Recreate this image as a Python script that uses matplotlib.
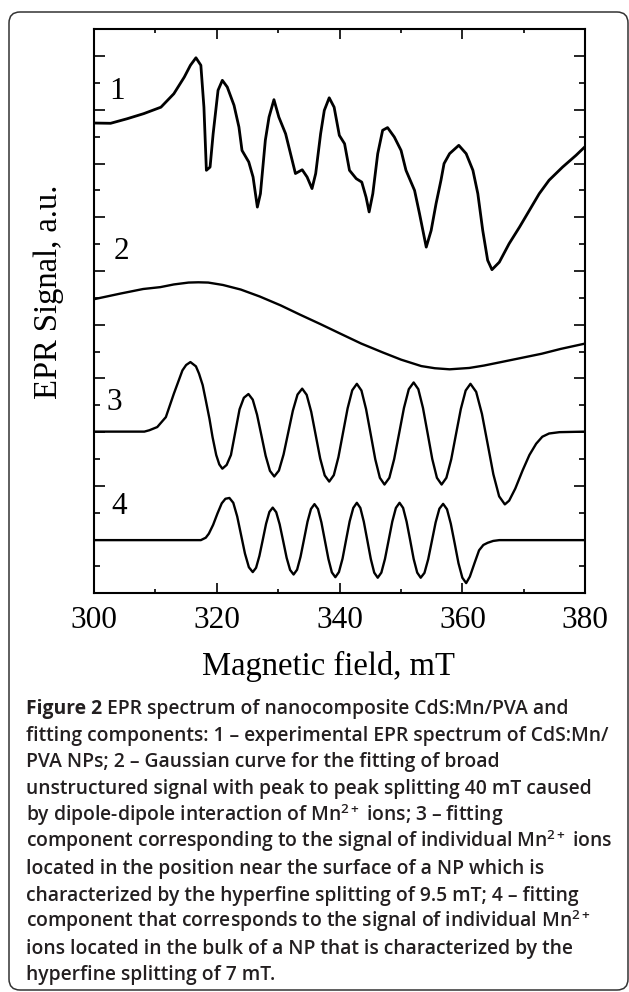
import matplotlib
matplotlib.use('Agg')
import matplotlib.pyplot as plt
from matplotlib.patches import FancyBboxPatch
from matplotlib.transforms import IdentityTransform
from matplotlib.ticker import MultipleLocator, FixedLocator

# ---------------- data ----------------
# curve 1 : experimental spectrum
field_1 = [300, 302.7, 305.4, 308.1, 310.9, 313.0, 314.7, 315.7, 316.6, 317.4,
           317.9, 318.3, 318.9, 319.4, 320.2, 320.9, 321.7, 322.8, 323.6, 324.1,
           325.2, 325.9, 326.6, 327.1, 327.9, 328.5, 329.3, 330.1, 331.2, 332.0,
           332.8, 333.9, 334.7, 335.5, 336.1, 336.9, 337.5, 338.3, 339.1, 339.95,
           340.8, 341.6, 342.7, 343.6, 344.3, 344.8, 345.4, 346.2, 347.0, 347.8,
           348.9, 350.0, 350.8, 352.2, 353.0, 354.1, 354.9, 355.7, 356.5, 357.0,
           357.9, 359.4, 360.6, 361.7, 362.5, 363.3, 364.1, 364.8, 366.0, 367.6,
           369.3, 370.9, 372.5, 374.1, 376.3, 378.5, 380]
signal_1 = [17.51, 17.5, 17.67, 17.86, 18.1, 18.6, 19.22, 19.66, 19.94, 19.66,
            18.1, 15.75, 15.87, 17.11, 18.73, 19.1, 18.85, 18.17, 17.36, 16.49,
            16.06, 15.5, 14.38, 14.88, 16.87, 17.73, 18.38, 17.73, 17.11, 16.37,
            15.63, 15.77, 15.5, 15.07, 15.63, 17.11, 17.98, 18.45, 18.1, 17.05,
            16.74, 15.75, 15.44, 15.31, 14.75, 14.2, 14.88, 16.37, 17.24, 17.34,
            16.99, 16.49, 15.75, 15.0, 14.14, 12.89, 13.51, 14.51, 15.38, 16.0,
            16.37, 16.68, 16.37, 15.75, 14.88, 13.51, 12.4, 12.05, 12.33, 13.02,
            13.64, 14.26, 14.88, 15.38, 15.87, 16.31, 16.64]

# curve 2 : broad Gaussian component
field_2 = [300, 304.3, 308, 310.8, 313, 315.4, 317, 318.6, 321, 323.9, 327,
           330.4, 333.5, 336.9, 340, 343.5, 347, 350, 353.3, 355.5, 357.9,
           361.1, 363.5, 366.3, 369.5, 372.9, 376, 380]
signal_2 = [10.95, 11.16, 11.33, 11.4, 11.5, 11.57, 11.58, 11.57, 11.48, 11.31,
            11.05, 10.72, 10.38, 10.02, 9.68, 9.3, 8.97, 8.7, 8.46, 8.38, 8.34,
            8.39, 8.48, 8.61, 8.76, 8.92, 9.1, 9.3]

# curve 3 : surface Mn2+ component (9.5 mT splitting)
field_3 = [300, 308.2, 309.0, 310.3, 311.7, 313.0, 314.4, 315.0, 315.7,
           316.6, 317.1, 317.7, 318.2, 318.8, 319.3, 319.9, 320.4, 320.9,
           321.6, 322.3, 323.0, 323.7, 324.4, 325.15,
           325.85, 326.55, 327.25, 327.95, 328.65, 329.35,
           330.11, 330.87, 331.63, 332.38, 333.14, 333.9,
           334.63, 335.37, 336.1, 336.83, 337.57, 338.3,
           339.05, 339.8, 340.55, 341.3, 342.05, 342.8,
           343.55, 344.3, 345.05, 345.8, 346.55, 347.3,
           348.09, 348.88, 349.68, 350.47, 351.26, 352.05,
           352.81, 353.57, 354.33, 355.08, 355.84, 356.6,
           357.38, 358.17, 358.95, 359.73, 360.52, 361.3,
           362.23, 363.17, 364.1, 365.03, 365.97, 366.9,
           367.6, 368.6, 369.8, 370.9, 372.0, 373.0, 374.1, 375.8, 380]
signal_3 = [6.02, 6.02, 6.07, 6.19, 6.56, 7.43, 8.3, 8.5, 8.61,
            8.45, 8.18, 7.75, 7.19, 6.5, 5.82, 5.15, 4.8, 4.64,
            4.78, 5.15, 6.0, 6.85, 7.28, 7.42,
            7.21, 6.65, 5.89, 5.12, 4.56, 4.35,
            4.57, 5.17, 5.99, 6.8, 7.4, 7.62,
            7.39, 6.76, 5.89, 5.02, 4.39, 4.16,
            4.4, 5.07, 5.98, 6.89, 7.56, 7.8,
            7.55, 6.86, 5.93, 4.99, 4.3, 4.05,
            4.3, 5.0, 5.95, 6.9, 7.6, 7.85,
            7.6, 6.9, 5.95, 5.0, 4.3, 4.05,
            4.3, 4.99, 5.93, 6.86, 7.55, 7.8,
            7.5, 6.68, 5.56, 4.43, 3.61, 3.31,
            3.45, 3.9, 4.58, 5.15, 5.57, 5.83, 5.95, 6.0, 6.02]

# curve 4 : bulk Mn2+ component (7 mT splitting)
field_4 = [300, 317.4, 318.2, 318.7, 319.4, 320.1, 320.8, 321.4, 322.05,
           322.68, 323.32, 323.95, 324.58, 325.22, 325.85,
           326.39, 326.93, 327.48, 328.02, 328.56, 329.1,
           329.67, 330.23, 330.8, 331.37, 331.93, 332.5,
           333.07, 333.63, 334.2, 334.77, 335.33, 335.9,
           336.47, 337.03, 337.6, 338.17, 338.73, 339.3,
           339.88, 340.47, 341.05, 341.63, 342.22, 342.8,
           343.37, 343.93, 344.5, 345.07, 345.63, 346.2,
           346.79, 347.38, 347.98, 348.57, 349.16, 349.75,
           350.33, 350.9, 351.48, 352.05, 352.63, 353.2,
           353.81, 354.42, 355.03, 355.63, 356.24, 356.85,
           357.48, 358.1, 358.73, 359.35, 359.98, 360.6,
           361.2, 362.0, 362.7, 363.4, 364.1, 365.0, 366.0, 380]
signal_4 = [1.98, 1.98, 2.07, 2.22, 2.55, 2.97, 3.35, 3.52, 3.55,
            3.37, 2.86, 2.17, 1.48, 0.97, 0.79,
            0.95, 1.39, 1.99, 2.59, 3.03, 3.19,
            3.02, 2.57, 1.95, 1.32, 0.87, 0.7,
            0.88, 1.36, 2.01, 2.67, 3.14, 3.32,
            3.14, 2.64, 1.96, 1.28, 0.78, 0.6,
            0.79, 1.29, 1.99, 2.68, 3.18, 3.37,
            3.18, 2.67, 1.98, 1.28, 0.77, 0.58,
            0.77, 1.28, 1.98, 2.67, 3.18, 3.37,
            3.18, 2.67, 1.98, 1.28, 0.77, 0.58,
            0.76, 1.27, 1.96, 2.64, 3.15, 3.33,
            3.13, 2.59, 1.86, 1.12, 0.58, 0.38,
            0.62, 1.15, 1.6, 1.8, 1.88, 1.95, 1.98, 1.98]

curve_labels = ['1', '2', '3', '4']
label_field = [303.7, 304.4, 303.3, 304.1]
label_signal = [18.69, 12.71, 7.1, 3.24]

x_major = [300, 320, 340, 360, 380]
x_minor = [310, 330, 350, 370]
x_label = 'Magnetic field, mT'
y_label = 'EPR Signal, a.u.'

caption_head = 'Figure 2'
caption_lines = [
    ' EPR spectrum of nanocomposite CdS:Mn/PVA and',
    'fitting components: 1 \u2013 experimental EPR spectrum of CdS:Mn/',
    'PVA NPs; 2 \u2013 Gaussian curve for the fitting of broad',
    'unstructured signal with peak to peak splitting 40 mT caused',
    'by dipole-dipole interaction of Mn$^{2+}$ ions; 3 \u2013 fitting',
    'component corresponding to the signal of individual Mn$^{2+}$ ions',
    'located in the position near the surface of a NP which is',
    'characterized by the hyperfine splitting of 9.5 mT; 4 \u2013 fitting',
    'component that corresponds to the signal of individual Mn$^{2+}$',
    'ions located in the bulk of a NP that is characterized by the',
    'hyperfine splitting of 7 mT.',
]

# ---------------- figure ----------------
W, H = 629, 992
plt.rcParams['mathtext.fontset'] = 'custom'
plt.rcParams['mathtext.rm'] = 'Open Sans:semibold'
plt.rcParams['mathtext.it'] = 'Open Sans:italic'
plt.rcParams['mathtext.bf'] = 'Open Sans:bold'

fig = plt.figure(figsize=(W / 100, H / 100), dpi=100)
fig.patch.set_facecolor('white')

serif = 'Liberation Serif'

ax = fig.add_axes([94 / W, 1 - 593.3 / H, (585.3 - 94) / W, (593.3 - 29.3) / H])
ax.plot(field_1, signal_1, color='black', lw=2.0, solid_joinstyle='round')
ax.plot(field_2, signal_2, color='black', lw=1.7)
ax.plot(field_3, signal_3, color='black', lw=1.7)
ax.plot(field_4, signal_4, color='black', lw=1.7)

for t, xf, ys in zip(curve_labels, label_field, label_signal):
    ax.text(xf, ys, t, fontsize=22.5, family=serif, ha='center', va='center')

ax.set_xlim(300, 380)
ax.set_ylim(0, 21)
ax.xaxis.set_major_locator(FixedLocator(x_major))
ax.xaxis.set_minor_locator(FixedLocator(x_minor))
ax.yaxis.set_major_locator(MultipleLocator(2))
ax.yaxis.set_minor_locator(MultipleLocator(1))
ax.tick_params(which='both', direction='in', top=True, right=True, width=1.2,
               color='black')
ax.tick_params(axis='y', which='major', length=7.7, labelleft=False)
ax.tick_params(axis='y', which='minor', length=4.3)
ax.tick_params(axis='x', which='major', length=7.5, pad=9, labelsize=22.5)
ax.tick_params(axis='x', which='minor', length=3.0)
for lab in ax.get_xticklabels():
    lab.set_family(serif)
for s in ax.spines.values():
    s.set_linewidth(1.5)

fig.text(49 / W, 1 - 292 / H, y_label, rotation=90, fontsize=23.5, family=serif,
         ha='center', va='center')
fig.text(328 / W, 1 - 675 / H, x_label, fontsize=23.5, family=serif,
         ha='center', va='baseline')

# caption
cap_kw = dict(family=['Open Sans', 'DejaVu Sans'], fontsize=13.85, color='#231f20',
              va='baseline', ha='left')
x0 = 26 / W
base0 = 714.3
step = 26.6
head = fig.text(x0, 1 - base0 / H, caption_head, fontweight='bold', **cap_kw)
fig.canvas.draw()
r = fig.canvas.get_renderer()
bb = head.get_window_extent(renderer=r)
fig.text(bb.x1 / W, 1 - base0 / H, caption_lines[0], fontweight='semibold', **cap_kw)
for i, line in enumerate(caption_lines[1:], start=1):
    fig.text(x0, 1 - (base0 + i * step) / H, line, fontweight='semibold', **cap_kw)

# outer rounded frame (in pixels)
frame = FancyBboxPatch((9, H - 990), 628 - 9, 990 - 12,
                       boxstyle='round,pad=0,rounding_size=11',
                       transform=IdentityTransform(), fill=False,
                       edgecolor='#333333', lw=1.1)
fig.patches.append(frame)

fig.savefig('out.png', dpi=100)
